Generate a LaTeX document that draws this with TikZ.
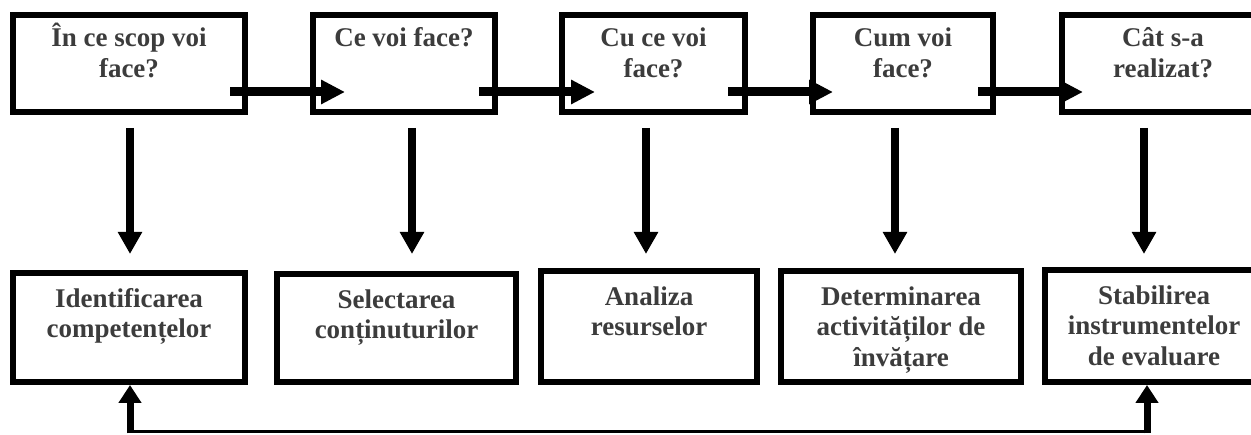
\documentclass[tikz,border=0pt]{standalone}
\usepackage{fontspec}
\setmainfont{Liberation Serif}
\usetikzlibrary{arrows.meta}
\definecolor{txt}{RGB}{60,60,60}
\newcommand\mylines[1]{\parbox[t]{240pt}{\centering #1}}
\tikzset{
  box/.style={draw=black, line width=6pt, inner sep=0pt, outer sep=3pt},
  lbl/.style={font=\fontsize{27}{30.5}\selectfont\bfseries, text=txt, inner sep=0pt, anchor=base},
  harrow/.style={line width=9pt, -{Triangle[length=24pt,width=23pt]}},
  varrow/.style={line width=8pt, -{Triangle[length=22pt,width=23pt]}},
  uparrow/.style={line width=7pt, -{Triangle[length=18pt,width=22pt]}},
  fbline/.style={line width=3pt}
}
\begin{document}
\begin{tikzpicture}[x=1pt,y=-1pt]
\useasboundingbox (0,0) rectangle (1251,435);
\clip (0,0) rectangle (1251,435);
% top row
\node[box, minimum width=232pt, minimum height=97pt] (T1) at (129,63.5) {};
\node[box, minimum width=182pt, minimum height=97pt] (T2) at (404,63.5) {};
\node[box, minimum width=183pt, minimum height=97pt] (T3) at (653.5,63.5) {};
\node[box, minimum width=180pt, minimum height=97pt] (T4) at (903,63.5) {};
\node[box, minimum width=202pt, minimum height=97pt] (T5) at (1163,63.5) {};
% bottom row
\node[box, minimum width=232pt, minimum height=109pt] (B1) at (129,327.5) {};
\node[box, minimum width=239pt, minimum height=108pt] (B2) at (396.5,328) {};
\node[box, minimum width=216pt, minimum height=111pt] (B3) at (649,326.5) {};
\node[box, minimum width=240pt, minimum height=111pt] (B4) at (901,326.5) {};
\node[box, minimum width=218pt, minimum height=112pt] (B5) at (1154,326) {};
% texts
\node[lbl] (t1) at ([yshift=-35pt]T1.north) {\mylines{În ce scop voi\\face?}};
\node[lbl] (t2) at ([yshift=-35pt]T2.north) {\mylines{Ce voi face?}};
\node[lbl] (t3) at ([yshift=-35pt]T3.north) {\mylines{Cu ce voi\\face?}};
\node[lbl] (t4) at ([yshift=-35pt]T4.north) {\mylines{Cum voi\\face?}};
\node[lbl] (t5) at ([yshift=-35pt]T5.north) {\mylines{Cât s-a\\realizat?}};
\node[lbl] (b1) at ([yshift=-37.5pt]B1.north) {\mylines{Identificarea\\competențelor}};
\node[lbl] (b2) at ([yshift=-37.5pt]B2.north) {\mylines{Selectarea\\conținuturilor}};
\node[lbl] (b3) at ([yshift=-37.5pt]B3.north) {\mylines{Analiza\\resurselor}};
\node[lbl] (b4) at ([yshift=-37.5pt]B4.north) {\mylines{Determinarea\\activităților de\\învățare}};
\node[lbl] (b5) at ([yshift=-37.5pt]B5.north) {\mylines{Stabilirea\\instrumentelor\\de evaluare}};
% horizontal arrows
\draw[harrow] ([xshift=-18pt,yshift=-28.5pt]T1.east) -- ([xshift=35pt,yshift=-28.5pt]T2.west);
\draw[harrow] ([xshift=-19pt,yshift=-28.5pt]T2.east) -- ([xshift=36pt,yshift=-28.5pt]T3.west);
\draw[harrow] ([xshift=-20pt,yshift=-28.5pt]T3.east) -- ([xshift=23pt,yshift=-28.5pt]T4.west);
\draw[harrow] ([xshift=-18pt,yshift=-28.5pt]T4.east) -- ([xshift=24pt,yshift=-28.5pt]T5.west);
% vertical arrows
\draw[varrow] ([xshift=1pt,yshift=-13pt]T1.south) -- ([xshift=1pt,yshift=16pt]B1.north);
\draw[varrow] ([xshift=8pt,yshift=-13pt]T2.south) -- ([xshift=15.5pt,yshift=17pt]B2.north);
\draw[varrow] ([xshift=-7.5pt,yshift=-13pt]T3.south) -- ([xshift=-3pt,yshift=14pt]B3.north);
\draw[varrow] ([xshift=-8pt,yshift=-13pt]T4.south) -- ([xshift=-6pt,yshift=14pt]B4.north);
\draw[varrow] ([xshift=-19pt,yshift=-13pt]T5.south) -- ([xshift=-10pt,yshift=13pt]B5.north);
% feedback
\coordinate (f1) at (130,432);
\coordinate (f2) at (1147,432);
\draw[fbline] (f1) -- (f2);
\draw[uparrow] ([yshift=-1.5pt]f1) -- (f1 |- B1.south);
\draw[uparrow] ([yshift=-1.5pt]f2) -- (f2 |- B5.south);
\end{tikzpicture}
\end{document}
